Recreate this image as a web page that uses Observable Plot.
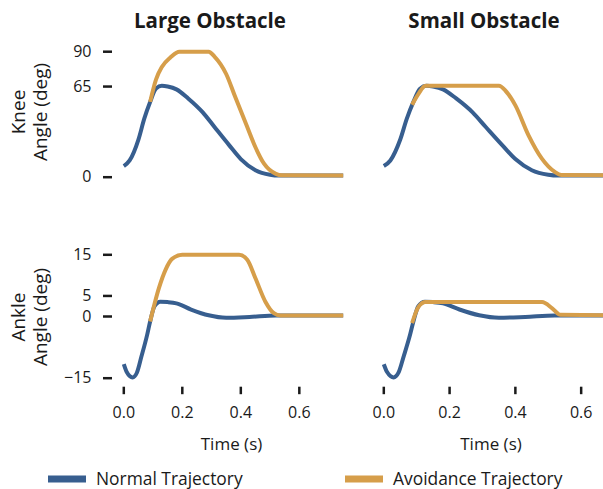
<!DOCTYPE html>
<html>
<head>
<meta charset="utf-8">
<script src="https://cdn.jsdelivr.net/npm/d3@7"></script>
<script src="https://cdn.jsdelivr.net/npm/@observablehq/plot@0.6"></script>
<style>
  html, body { margin: 0; padding: 0; background: #fff; overflow: hidden; }
  #chart { position: relative; width: 603px; height: 489px; font-family: "Open Sans", "Noto Sans", sans-serif; color: #1a1a1a; }
  .abs { position: absolute; white-space: pre; line-height: 1; }
  .title { font-weight: 700; font-size: 20.5px; transform: translate(-50%, -50%); }
  .ylab { font-size: 19px; line-height: 22px; text-align: center; transform: translate(-50%, -50%) rotate(-90deg); }
  .xlab { font-size: 17px; transform: translate(-50%, -50%); }
  .leg { font-size: 17.4px; transform: translateY(-50%); }
  .sw { position: absolute; height: 7px; transform: translateY(-50%); }
</style>
</head>
<body>
<div id="chart"></div>
<script>
// ---- data ----
const panels = ["Large Obstacle", "Small Obstacle"];
const legendLabels = ["Normal Trajectory", "Avoidance Trajectory"];
const kneeTicks = [0, 65, 90];
const ankleTicks = [-15, 0, 5, 15];
const timeTicks = [0, 0.2, 0.4, 0.6];

// Normal trajectory (shared by both obstacles)
const normalKneeT = [0, 0.02, 0.05, 0.07, 0.09, 0.11, 0.13, 0.15, 0.18, 0.22, 0.27, 0.31, 0.36, 0.40, 0.45, 0.50, 0.53, 0.75];
const normalKneeV = [8, 12, 27, 42, 54, 63.5, 65.5, 65, 63, 56.5, 46.5, 36, 23, 13, 5, 1.8, 1.2, 1.2];
const normalAnkleT = [0, 0.01, 0.03, 0.045, 0.06, 0.08, 0.09, 0.105, 0.125, 0.15, 0.18, 0.23, 0.29, 0.35, 0.43, 0.52, 0.75];
const normalAnkleV = [-11.6, -13.5, -14.8, -13.6, -9.8, -4.4, -1.2, 2.5, 3.6, 3.5, 3.2, 1.7, 0.3, -0.3, -0.1, 0.25, 0.25];

// Avoidance trajectory, large obstacle
const largeKneeT = [0.09, 0.11, 0.13, 0.16, 0.19, 0.29, 0.31, 0.35, 0.38, 0.42, 0.45, 0.48, 0.52, 0.54, 0.75];
const largeKneeV = [54, 70, 79, 86, 90, 90, 86.5, 74, 58, 37, 21.5, 9.5, 2.4, 1.4, 1.2];
const largeAnkleT = [0.09, 0.12, 0.143, 0.165, 0.20, 0.394, 0.422, 0.45, 0.484, 0.513, 0.535, 0.75];
const largeAnkleV = [-1.2, 6.9, 11.4, 14, 15, 15, 13.8, 9.3, 3.6, 0.8, 0.25, 0.25];

// Avoidance trajectory, small obstacle
const smallKneeT = [0.086, 0.106, 0.127, 0.35, 0.37, 0.40, 0.44, 0.48, 0.52, 0.54, 0.75];
const smallKneeV = [52, 60, 65.5, 65.5, 62, 51.5, 30, 13.5, 3.8, 1.6, 1.2];
const smallAnkleT = [0.086, 0.106, 0.127, 0.481, 0.512, 0.537, 0.75];
const smallAnkleV = [-1.6, 2.4, 3.5, 3.5, 2.0, 0.4, 0.25];

const colors = ["#375E8F", "#D69E4A"];

// ---- build ----
const zip = (T, V) => T.map((t, i) => ({t, v: V[i]}));
const chart = document.getElementById("chart");
const FONT = "'Open Sans', 'Noto Sans', sans-serif";

function panel(o) {
  const marks = [
    Plot.line(zip(o.nT, o.nV), {x: "t", y: "v", stroke: colors[0], strokeWidth: 4, curve: "monotone-x", strokeLinecap: "butt"}),
    Plot.line(zip(o.aT, o.aV), {x: "t", y: "v", stroke: colors[1], strokeWidth: 4, curve: "monotone-x", strokeLinecap: "butt"})
  ];
  if (o.showY) marks.push(Plot.axisY(o.yTicks, {tickSize: 9, tickPadding: 12, strokeWidth: 2.5, label: null, fontSize: 16}));
  if (o.showX) marks.push(Plot.axisX(timeTicks, {tickSize: 7.5, tickPadding: 12, strokeWidth: 2.5, label: null, fontSize: 16, tickFormat: d3.format(".1f")}));
  const svg = Plot.plot({
    width: o.width, height: o.height,
    marginLeft: o.marginLeft, marginRight: o.marginRight,
    marginTop: o.marginTop, marginBottom: o.marginBottom,
    x: {domain: o.xDomain, insetLeft: o.insetLeft || 0, axis: null},
    y: {domain: o.yDomain, insetBottom: o.insetBottom || 0, axis: null},
    style: {fontFamily: FONT, fontSize: "16px", color: "#1a1a1a", background: "transparent", overflow: "hidden"},
    marks
  });
  svg.style.position = "absolute";
  svg.style.left = o.left + "px";
  svg.style.top = o.top + "px";
  chart.appendChild(svg);
}

panel({nT: normalKneeT, nV: normalKneeV, aT: largeKneeT, aV: largeKneeV, yDomain: [0, 90], yTicks: kneeTicks, showY: true, showX: false,
  left: 0, top: 0, width: 360, height: 200, marginLeft: 112, insetLeft: 11.3, marginRight: 17.3, marginTop: 51.2, marginBottom: 23.3, xDomain: [0, 0.75]});
panel({nT: normalKneeT, nV: normalKneeV, aT: smallKneeT, aV: smallKneeV, yDomain: [0, 90], yTicks: kneeTicks, showY: false, showX: false,
  left: 360, top: 0, width: 243, height: 200, marginLeft: 23.3, marginRight: 2.6, marginTop: 51.2, marginBottom: 23.3, xDomain: [0, 0.66]});
panel({nT: normalAnkleT, nV: normalAnkleV, aT: largeAnkleT, aV: largeAnkleV, yDomain: [-15, 15], yTicks: ankleTicks, showY: true, showX: true,
  left: 0, top: 200, width: 360, height: 260, marginLeft: 112, insetLeft: 11.3, marginRight: 17.3, marginTop: 54.3, marginBottom: 73.3, insetBottom: 9, xDomain: [0, 0.75]});
panel({nT: normalAnkleT, nV: normalAnkleV, aT: smallAnkleT, aV: smallAnkleV, yDomain: [-15, 15], yTicks: ankleTicks, showY: false, showX: true,
  left: 360, top: 200, width: 243, height: 260, marginLeft: 23.3, marginRight: 2.6, marginTop: 54.3, marginBottom: 73.3, insetBottom: 9, xDomain: [0, 0.66]});

function addText(cls, text, x, y) {
  const d = document.createElement("div");
  d.className = "abs " + cls;
  d.textContent = text;
  d.style.left = x + "px";
  d.style.top = y + "px";
  chart.appendChild(d);
}
addText("title", panels[0], 210, 20);
addText("title", panels[1], 484, 20);
addText("ylab", "Knee\nAngle (deg)", 29, 112);
addText("ylab", "Ankle\nAngle (deg)", 29, 317);
addText("xlab", "Time (s)", 231.5, 443);
addText("xlab", "Time (s)", 491, 443);

function swatch(x, w, y, c) {
  const s = document.createElement("div");
  s.className = "sw";
  s.style.left = x + "px"; s.style.top = y + "px"; s.style.width = w + "px"; s.style.background = c;
  chart.appendChild(s);
}
swatch(48, 38, 479, colors[0]);
addText("leg", legendLabels[0], 96, 479);
swatch(345, 38, 479, colors[1]);
addText("leg", legendLabels[1], 393, 479);
</script>
</body>
</html>
